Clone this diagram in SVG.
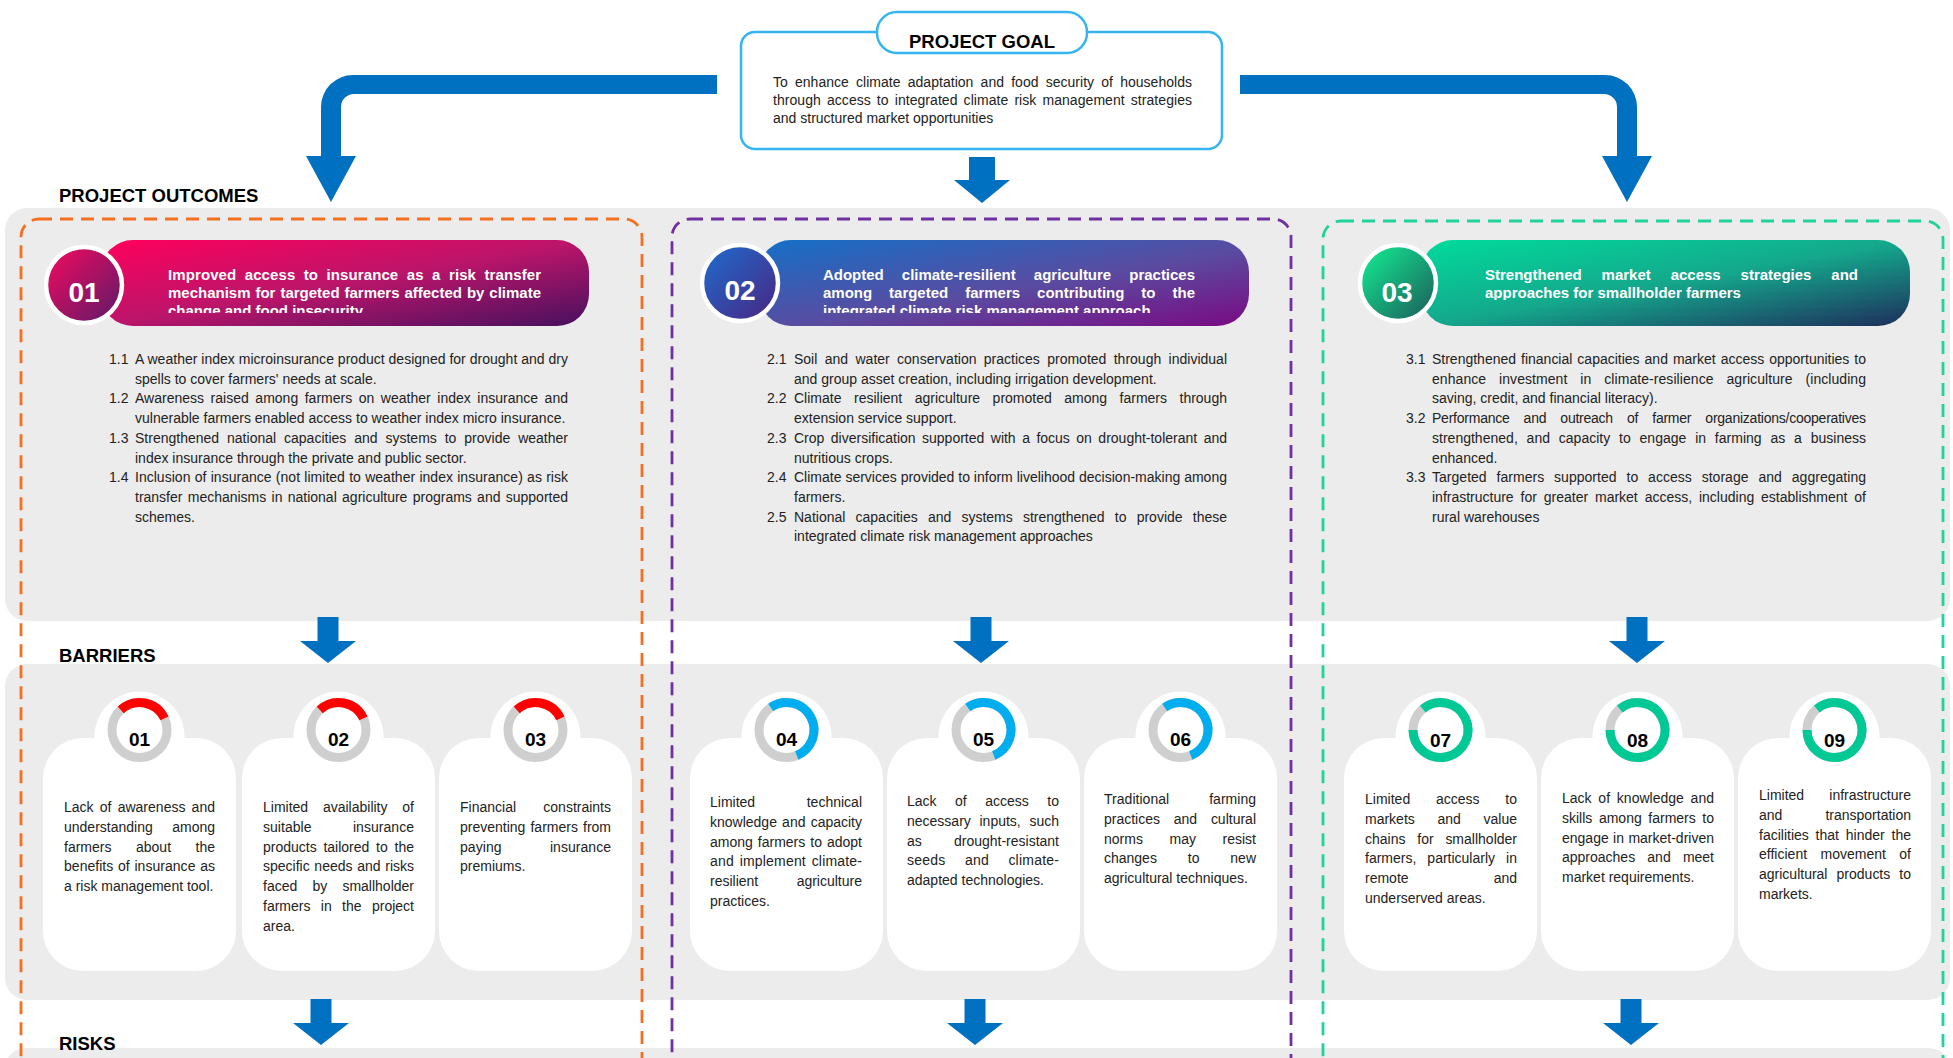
<svg xmlns="http://www.w3.org/2000/svg" width="1953" height="1058" viewBox="0 0 1953 1058">
<defs>
<style>
.panel{fill:#ececec}
.h{font-family:"Liberation Sans",Arial,sans-serif;font-weight:bold;font-size:18.5px;fill:#000}
.t{font-family:"Liberation Sans",Arial,sans-serif;font-size:14px;fill:#222}
.pt{font-family:"Liberation Sans",Arial,sans-serif;font-weight:bold;font-size:15px;fill:#fff}
.big{font-family:"Liberation Sans",Arial,sans-serif;font-weight:bold;font-size:28px;fill:#fff;text-anchor:middle}
.gn{font-family:"Liberation Sans",Arial,sans-serif;font-weight:bold;font-size:19px;fill:#000;text-anchor:middle}
.arrow{fill:#0070c0}
.dash{fill:none;stroke-width:2.8;stroke-dasharray:13 8}
.card{fill:#fff}
.ring{fill:none;stroke:#cfcfcf;stroke-width:9}
.arc{fill:none;stroke-width:9}
.goal{fill:#fff;stroke:#35b5ef;stroke-width:2.5}
</style>
<linearGradient id="pill1" x1="0" y1="0" x2="1" y2="1"><stop offset="0" stop-color="#ff005c"/><stop offset="0.5" stop-color="#bb156a"/><stop offset="1" stop-color="#46105e"/></linearGradient>
<linearGradient id="disc1" x1="0" y1="0" x2="1" y2="1"><stop offset="0" stop-color="#f70a5f"/><stop offset="1" stop-color="#5a1a68"/></linearGradient>
<linearGradient id="pill2" x1="0" y1="0" x2="1" y2="1"><stop offset="0" stop-color="#1470c8"/><stop offset="0.55" stop-color="#5a4ba0"/><stop offset="1" stop-color="#7a0a82"/></linearGradient>
<linearGradient id="disc2" x1="0" y1="0" x2="1" y2="1"><stop offset="0" stop-color="#1e6ed0"/><stop offset="1" stop-color="#4a2480"/></linearGradient>
<linearGradient id="pill3" x1="0" y1="0" x2="1" y2="1"><stop offset="0" stop-color="#00dc9c"/><stop offset="0.5" stop-color="#14a88c"/><stop offset="1" stop-color="#1e2e5c"/></linearGradient>
<linearGradient id="disc3" x1="0" y1="0" x2="1" y2="1"><stop offset="0" stop-color="#12f296"/><stop offset="1" stop-color="#1c5858"/></linearGradient>
<clipPath id="clipP1"><rect x="101" y="240" width="488" height="73"/></clipPath>
<clipPath id="clipP2"><rect x="759" y="240" width="490" height="73"/></clipPath>
<clipPath id="clipP3"><rect x="1421" y="240" width="489" height="60"/></clipPath>
<path id="dn" class="arrow" d="M-10.5,0H10.5V24H28L0,46L-28,24H-10.5Z"/>
<g id="cardShape">
  <rect class="card" x="0" y="738" width="193" height="233" rx="40"/>
  <circle class="card" cx="96.5" cy="736.5" r="45"/>
  <circle class="ring" cx="96.5" cy="730" r="27.5"/>
</g>
<path id="arcRed" class="arc" stroke="#ff0000" d="M77.75,709.89A27.5,27.5 0 0 1 121.42,718.38"/>
<path id="arcBlue" class="arc" stroke="#00aeef" d="M80.73,707.47A27.5,27.5 0 1 1 106.8,755.5"/>
<path id="arcGreen" class="arc" stroke="#00c996" d="M78.82,708.93A27.5,27.5 0 1 1 69,730"/>
</defs>

<rect width="1953" height="1058" fill="#fff"/>

<!-- section backgrounds -->
<g id="panels">
  <rect class="panel" x="5" y="208" width="1945" height="413" rx="22"/>
  <rect class="panel" x="5" y="664" width="1945" height="336" rx="22"/>
  <rect class="panel" x="5" y="1048" width="1945" height="40" rx="22"/>
</g>

<!-- section headings -->
<g id="headings" class="h">
  <text x="59" y="202">PROJECT OUTCOMES</text>
  <text x="59" y="662">BARRIERS</text>
  <text x="59" y="1050">RISKS</text>
</g>

<!-- outcome column frames -->
<g id="frames">
  <rect class="dash" stroke="#f47020" x="21" y="219" width="621" height="900" rx="18"/>
  <rect class="dash" stroke="#7030a0" x="672" y="219" width="619" height="900" rx="18"/>
  <rect class="dash" stroke="#20d39c" x="1323" y="221" width="620" height="900" rx="18"/>
</g>

<!-- connectors -->
<g id="connectors">
  <path class="arrow" d="M717,75H353A32,32 0 0 0 321,107V156H306L331,202L356,156H341V107A13,13 0 0 1 354,94H717Z"/>
  <path class="arrow" d="M1240,75H1605A32,32 0 0 1 1637,107V156H1652L1627,202L1602,156H1617V107A13,13 0 0 0 1604,94H1240Z"/>
  <path class="arrow" d="M969,157H995V180H1010L982,203L954,180H969Z"/>
  <use href="#dn" x="328" y="617"/>
  <use href="#dn" x="981" y="617"/>
  <use href="#dn" x="1637" y="617"/>
  <use href="#dn" x="321" y="999"/>
  <use href="#dn" x="975" y="999"/>
  <use href="#dn" x="1631" y="999"/>
</g>

<!-- project goal -->
<g id="goal">
  <rect class="goal" x="741" y="32" width="481" height="117" rx="14"/>
  <rect class="goal" x="877" y="12" width="210" height="41" rx="20"/>
  <text class="h" x="982" y="48" text-anchor="middle">PROJECT GOAL</text>
  <g class="t">
    <text x="773" y="87" textLength="419" word-spacing="3.25">To enhance climate adaptation and food security of households</text>
    <text x="773" y="105" textLength="419" word-spacing="2.1">through access to integrated climate risk management strategies</text>
    <text x="773" y="123">and structured market opportunities</text>
  </g>
</g>

<!-- outcome 01 -->
<g id="outcome1">
  <rect x="101" y="240" width="488" height="86" rx="32" fill="url(#pill1)"/>
  <circle cx="84" cy="285" r="38" fill="url(#disc1)" stroke="#fff" stroke-width="4.5"/>
  <text class="big" x="84" y="302">01</text>
  <g class="pt" clip-path="url(#clipP1)">
    <text x="168" y="280" textLength="373" word-spacing="4.2">Improved access to insurance as a risk transfer</text>
    <text x="168" y="298" textLength="373" word-spacing="0.8">mechanism for targeted farmers affected by climate</text>
    <text x="168" y="316">change and food insecurity</text>
  </g>
  <g class="t">
    <text x="109" y="364">1.1</text>
    <text x="135" y="364" textLength="433">A weather index microinsurance product designed for drought and dry</text>
    <text x="135" y="383.7">spells to cover farmers' needs at scale.</text>
    <text x="109" y="403.4">1.2</text>
    <text x="135" y="403.4" textLength="433" word-spacing="2.6">Awareness raised among farmers on weather index insurance and</text>
    <text x="135" y="423.1">vulnerable farmers enabled access to weather index micro insurance.</text>
    <text x="109" y="442.8">1.3</text>
    <text x="135" y="442.8" textLength="433" word-spacing="4">Strengthened national capacities and systems to provide weather</text>
    <text x="135" y="462.5">index insurance through the private and public sector.</text>
    <text x="109" y="482.2">1.4</text>
    <text x="135" y="482.2" textLength="433" word-spacing="0.35">Inclusion of insurance (not limited to weather index insurance) as risk</text>
    <text x="135" y="501.9" textLength="433" word-spacing="1.4">transfer mechanisms in national agriculture programs and supported</text>
    <text x="135" y="521.6">schemes.</text>
  </g>
</g>

<!-- outcome 02 -->
<g id="outcome2">
  <rect x="759" y="240" width="490" height="86" rx="32" fill="url(#pill2)"/>
  <circle cx="740" cy="283" r="38" fill="url(#disc2)" stroke="#fff" stroke-width="4.5"/>
  <text class="big" x="740" y="300">02</text>
  <g class="pt" clip-path="url(#clipP2)">
    <text x="823" y="280" textLength="372" word-spacing="14">Adopted climate-resilient agriculture practices</text>
    <text x="823" y="298" textLength="372" word-spacing="12.9">among targeted farmers contributing to the</text>
    <text x="823" y="316">integrated climate risk management approach</text>
  </g>
  <g class="t">
    <text x="767" y="364">2.1</text>
    <text x="794" y="364" textLength="433" word-spacing="3.5">Soil and water conservation practices promoted through individual</text>
    <text x="794" y="383.7">and group asset creation, including irrigation development.</text>
    <text x="767" y="403.4">2.2</text>
    <text x="794" y="403.4" textLength="433" word-spacing="8.6">Climate resilient agriculture promoted among farmers through</text>
    <text x="794" y="423.1">extension service support.</text>
    <text x="767" y="442.8">2.3</text>
    <text x="794" y="442.8" textLength="433" word-spacing="2.6">Crop diversification supported with a focus on drought-tolerant and</text>
    <text x="794" y="462.5">nutritious crops.</text>
    <text x="767" y="482.2">2.4</text>
    <text x="794" y="482.2" textLength="433">Climate services provided to inform livelihood decision-making among</text>
    <text x="794" y="501.9">farmers.</text>
    <text x="767" y="521.6">2.5</text>
    <text x="794" y="521.6" textLength="433" word-spacing="6.3">National capacities and systems strengthened to provide these</text>
    <text x="794" y="541.3">integrated climate risk management approaches</text>
  </g>
</g>

<!-- outcome 03 -->
<g id="outcome3">
  <rect x="1421" y="240" width="489" height="86" rx="32" fill="url(#pill3)"/>
  <circle cx="1398" cy="283" r="38" fill="url(#disc3)" stroke="#fff" stroke-width="4.5"/>
  <text class="big" x="1397" y="302">03</text>
  <g class="pt" clip-path="url(#clipP3)">
    <text x="1485" y="280" textLength="373" word-spacing="15.7">Strengthened market access strategies and</text>
    <text x="1485" y="298">approaches for smallholder farmers</text>
  </g>
  <g class="t">
    <text x="1406" y="364">3.1</text>
    <text x="1432" y="364" textLength="434" word-spacing="1.1">Strengthened financial capacities and market access opportunities to</text>
    <text x="1432" y="383.7" textLength="434" word-spacing="9">enhance investment in climate-resilience agriculture (including</text>
    <text x="1432" y="403.4">saving, credit, and financial literacy).</text>
    <text x="1406" y="423.1">3.2</text>
    <text x="1432" y="423.1" textLength="434" word-spacing="10.4">Performance and outreach of farmer organizations/cooperatives</text>
    <text x="1432" y="442.8" textLength="434" word-spacing="4.9">strengthened, and capacity to engage in farming as a business</text>
    <text x="1432" y="462.5">enhanced.</text>
    <text x="1406" y="482.2">3.3</text>
    <text x="1432" y="482.2" textLength="434" word-spacing="6">Targeted farmers supported to access storage and aggregating</text>
    <text x="1432" y="501.9" textLength="434" word-spacing="3">infrastructure for greater market access, including establishment of</text>
    <text x="1432" y="521.6">rural warehouses</text>
  </g>
</g>

<!-- barrier cards -->
<g id="barrier01" transform="translate(43,0)">
  <use href="#cardShape"/><use href="#arcRed"/>
  <text class="gn" x="96.5" y="746">01</text>
  <g class="t">
    <text x="21" y="812" textLength="151" word-spacing="2.3">Lack of awareness and</text>
    <text x="21" y="831.8" textLength="151" word-spacing="15.6">understanding among</text>
    <text x="21" y="851.6" textLength="151" word-spacing="20.6">farmers about the</text>
    <text x="21" y="871.4" textLength="151" word-spacing="0.8">benefits of insurance as</text>
    <text x="21" y="891.2">a risk management tool.</text>
  </g>
</g>
<g id="barrier02" transform="translate(242,0)">
  <use href="#cardShape"/><use href="#arcRed"/>
  <text class="gn" x="96.5" y="746">02</text>
  <g class="t">
    <text x="21" y="812" textLength="151" word-spacing="11">Limited availability of</text>
    <text x="21" y="831.8" textLength="151" word-spacing="37.4">suitable insurance</text>
    <text x="21" y="851.6" textLength="151" word-spacing="2.9">products tailored to the</text>
    <text x="21" y="871.4" textLength="151" word-spacing="0.8">specific needs and risks</text>
    <text x="21" y="891.2" textLength="151" word-spacing="11.3">faced by smallholder</text>
    <text x="21" y="911" textLength="151" word-spacing="6.5">farmers in the project</text>
    <text x="21" y="930.8">area.</text>
  </g>
</g>
<g id="barrier03" transform="translate(439,0)">
  <use href="#cardShape"/><use href="#arcRed"/>
  <text class="gn" x="96.5" y="746">03</text>
  <g class="t">
    <text x="21" y="812" textLength="151" word-spacing="23.4">Financial constraints</text>
    <text x="21" y="831.8" textLength="151" word-spacing="1.2">preventing farmers from</text>
    <text x="21" y="851.6" textLength="151" word-spacing="44.4">paying insurance</text>
    <text x="21" y="871.4">premiums.</text>
  </g>
</g>
<g id="barrier04" transform="translate(690,0)">
  <use href="#cardShape"/><use href="#arcBlue"/>
  <text class="gn" x="96.5" y="746">04</text>
  <g class="t">
    <text x="20" y="807" textLength="152" word-spacing="47.7">Limited technical</text>
    <text x="20" y="826.8" textLength="152" word-spacing="1.3">knowledge and capacity</text>
    <text x="20" y="846.6" textLength="152" word-spacing="1.1">among farmers to adopt</text>
    <text x="20" y="866.4" textLength="152" word-spacing="1.7">and implement climate-</text>
    <text x="20" y="886.2" textLength="152" word-spacing="34.5">resilient agriculture</text>
    <text x="20" y="906">practices.</text>
  </g>
</g>
<g id="barrier05" transform="translate(887,0)">
  <use href="#cardShape"/><use href="#arcBlue"/>
  <text class="gn" x="96.5" y="746">05</text>
  <g class="t">
    <text x="20" y="806" textLength="152" word-spacing="14.6">Lack of access to</text>
    <text x="20" y="825.8" textLength="152" word-spacing="4.8">necessary inputs, such</text>
    <text x="20" y="845.6" textLength="152" word-spacing="28.3">as drought-resistant</text>
    <text x="20" y="865.4" textLength="152" word-spacing="15.3">seeds and climate-</text>
    <text x="20" y="885.2">adapted technologies.</text>
  </g>
</g>
<g id="barrier06" transform="translate(1084,0)">
  <use href="#cardShape"/><use href="#arcBlue"/>
  <text class="gn" x="96.5" y="746">06</text>
  <g class="t">
    <text x="20" y="804" textLength="152" word-spacing="36.1">Traditional farming</text>
    <text x="20" y="823.8" textLength="152" word-spacing="9.9">practices and cultural</text>
    <text x="20" y="843.6" textLength="152" word-spacing="22.7">norms may resist</text>
    <text x="20" y="863.4" textLength="152" word-spacing="27">changes to new</text>
    <text x="20" y="883.2">agricultural techniques.</text>
  </g>
</g>
<g id="barrier07" transform="translate(1344,0)">
  <use href="#cardShape"/><use href="#arcGreen"/>
  <text class="gn" x="96.5" y="747">07</text>
  <g class="t">
    <text x="21" y="804" textLength="152" word-spacing="21.9">Limited access to</text>
    <text x="21" y="823.8" textLength="152" word-spacing="18.8">markets and value</text>
    <text x="21" y="843.6" textLength="152" word-spacing="7.9">chains for smallholder</text>
    <text x="21" y="863.4" textLength="152" word-spacing="7.2">farmers, particularly in</text>
    <text x="21" y="883.2" textLength="152" word-spacing="81.2">remote and</text>
    <text x="21" y="903">underserved areas.</text>
  </g>
</g>
<g id="barrier08" transform="translate(1541,0)">
  <use href="#cardShape"/><use href="#arcGreen"/>
  <text class="gn" x="96.5" y="747">08</text>
  <g class="t">
    <text x="21" y="803" textLength="152" word-spacing="2.9">Lack of knowledge and</text>
    <text x="21" y="822.8" textLength="152" word-spacing="2.7">skills among farmers to</text>
    <text x="21" y="842.6" textLength="152" word-spacing="0.5">engage in market-driven</text>
    <text x="21" y="862.4" textLength="152" word-spacing="8.3">approaches and meet</text>
    <text x="21" y="882.2">market requirements.</text>
  </g>
</g>
<g id="barrier09" transform="translate(1738,0)">
  <use href="#cardShape"/><use href="#arcGreen"/>
  <text class="gn" x="96.5" y="747">09</text>
  <g class="t">
    <text x="21" y="800" textLength="152" word-spacing="21.3">Limited infrastructure</text>
    <text x="21" y="819.8" textLength="152" word-spacing="39.2">and transportation</text>
    <text x="21" y="839.6" textLength="152" word-spacing="2.9">facilities that hinder the</text>
    <text x="21" y="859.4" textLength="152" word-spacing="9.5">efficient movement of</text>
    <text x="21" y="879.2" textLength="152" word-spacing="5.2">agricultural products to</text>
    <text x="21" y="899">markets.</text>
  </g>
</g>
</svg>
